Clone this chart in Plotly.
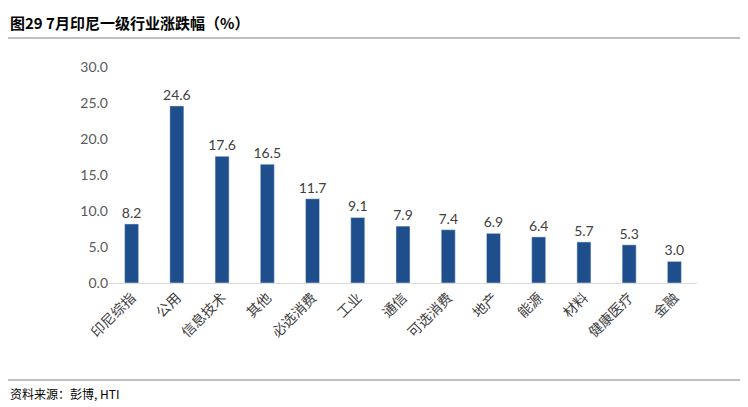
import plotly.graph_objs as go

categories = ["印尼综指", "公用", "信息技术", "其他", "必选消费", "工业", "通信",
              "可选消费", "地产", "能源", "材料", "健康医疗", "金融"]
values = [8.2, 24.6, 17.6, 16.5, 11.7, 9.1, 7.9, 7.4, 6.9, 6.4, 5.7, 5.3, 3.0]
y_ticks = [0, 5, 10, 15, 20, 25, 30]

fig = go.Figure(go.Bar(
    x=categories, y=values, width=0.31,
    marker_color="#1F4E8C",
    text=["%.1f" % v for v in values], textposition="outside",
    constraintext="none",
    textfont=dict(size=14, color="#404040", family="Lato"),
    cliponaxis=False,
))

fig.update_layout(
    width=748, height=407,
    margin=dict(l=101, r=59, t=59, b=132),
    paper_bgcolor="white", plot_bgcolor="white",
    showlegend=False, bargap=0.6,
    font=dict(family="Noto Sans CJK SC", color="#404040"),
)
fig.update_yaxes(range=[0, 30], tickvals=y_ticks,
                 ticktext=["%.1f" % t for t in y_ticks],
                 showgrid=False, zeroline=False, showline=False,
                 tickfont=dict(size=14, family="Lato", color="#595959"),
                 ticklen=0, ticks="")
fig.update_xaxes(showline=True, linecolor="#D9D9D9", linewidth=1,
                 tickangle=-45, tickfont=dict(size=14, color="#404040"),
                 ticks="", automargin=False)

fig.add_annotation(text="<b>图29 7月印尼一级行业涨跌幅（%）</b>", xref="paper", yref="paper",
                   x=-101 / 588, y=1 + 45 / 216, xanchor="left", yanchor="middle",
                   showarrow=False, font=dict(size=15, color="#000000"))
fig.add_annotation(text="资料来源：彭博, HTI", xref="paper", yref="paper",
                   x=-101 / 588, y=-110 / 216, xanchor="left", yanchor="middle",
                   showarrow=False, font=dict(size=12, color="#000000"))
fig.add_shape(type="line", xref="paper", yref="paper",
              x0=-101 / 588, x1=1 + 45 / 588, y0=1 + 29 / 216, y1=1 + 29 / 216,
              line=dict(color="#7F7F7F", width=1))
fig.add_shape(type="line", xref="paper", yref="paper",
              x0=-101 / 588, x1=1 + 45 / 588, y0=-97 / 216, y1=-97 / 216,
              line=dict(color="#7F7F7F", width=1))

fig.write_html("out.html")
